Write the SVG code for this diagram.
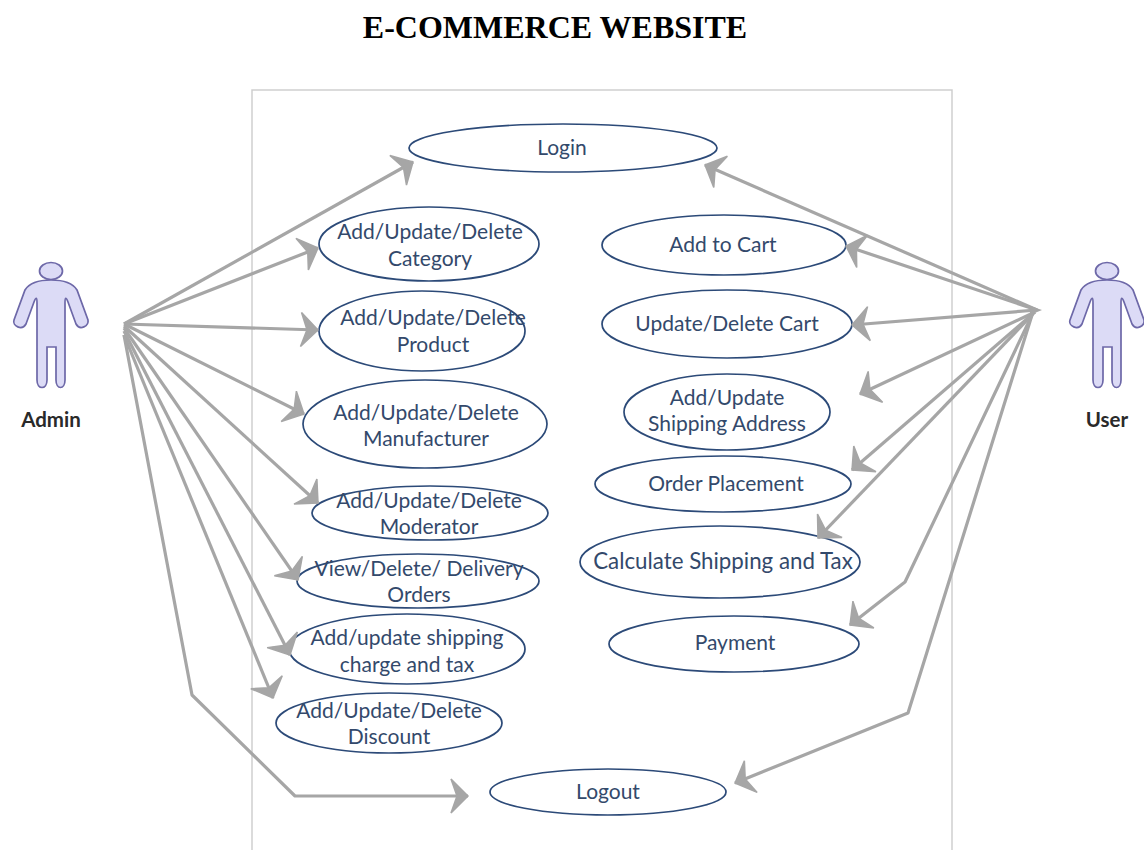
<svg xmlns="http://www.w3.org/2000/svg" width="1144" height="850" viewBox="0 0 1144 850">
<style>
.uc{fill:#fff;stroke:#2c4a78;stroke-width:1.7}
.t{font-family:Lato,"Open Sans",sans-serif;font-size:21px;fill:#33496b;text-anchor:middle}
.a{font-family:Lato,"Open Sans",sans-serif;font-size:20.5px;font-weight:700;fill:#2a2a2a;text-anchor:middle}
.c{fill:none;stroke:#a6a6a6;stroke-width:3.2;marker-end:url(#h);stroke-linejoin:round}
.fig{fill:#dcdbf6;stroke:#6d68a8;stroke-width:1.7}
</style>
<defs>
<marker id="h" markerUnits="userSpaceOnUse" markerWidth="44" markerHeight="44" viewBox="-22 -22 44 44" refX="0" refY="0" orient="auto">
<path d="M0 0L-17 -17L-11 0L-17 17Z" fill="#a6a6a6" stroke="#a6a6a6" stroke-width="1.5" stroke-linejoin="miter"/>
</marker>
<g id="figure"><ellipse cx="51" cy="271" rx="11.5" ry="8.5" class="fig"/>
<path class="fig" d="M51 280C60 280 72 282 77 290L88 320C89 326 80 331 76 324L68 302C66 297 65 297 65 303L65 380C65 390 56 390 56 380L56 347L47 347L47 380C47 390 37 390 37 380L37 303C37 297 36 297 34 302L26 324C22 331 12 326 14 320L25 290C30 282 42 280 51 280Z"/></g>
</defs>
<rect width="1144" height="850" fill="#fff"/>
<text x="555" y="38" font-family="Liberation Serif,serif" font-size="32" font-weight="bold" text-anchor="middle" fill="#000">E-COMMERCE WEBSITE</text>
<path d="M252 850V90H952V850" fill="none" stroke="#cfcfcf" stroke-width="1.5"/>
<g id="admin"><use href="#figure"/><text class="a" x="51" y="427">Admin</text></g>
<g id="user"><use href="#figure" x="1056"/><text class="a" x="1107" y="427">User</text></g>
<g id="login"><ellipse class="uc" cx="563" cy="148" rx="154" ry="24"/><text class="t" x="562" y="155">Login</text></g>
<g id="category"><ellipse class="uc" cx="429" cy="244" rx="110" ry="37"/><text class="t" x="430" y="239">Add/Update/Delete</text><text class="t" x="430" y="266">Category</text></g>
<g id="product"><ellipse class="uc" cx="422" cy="331" rx="103" ry="40"/><text class="t" x="433" y="325">Add/Update/Delete</text><text class="t" x="433" y="352">Product</text></g>
<g id="manufacturer"><ellipse class="uc" cx="425" cy="424" rx="122" ry="44"/><text class="t" x="426" y="420">Add/Update/Delete</text><text class="t" x="426" y="446">Manufacturer</text></g>
<g id="moderator"><ellipse class="uc" cx="430" cy="513" rx="118" ry="27"/><text class="t" x="429" y="508">Add/Update/Delete</text><text class="t" x="429" y="534">Moderator</text></g>
<g id="orders"><ellipse class="uc" cx="418" cy="581" rx="121" ry="27"/><text class="t" x="419" y="576">View/Delete/ Delivery</text><text class="t" x="419" y="602">Orders</text></g>
<g id="shippingcharge"><ellipse class="uc" cx="407" cy="649" rx="118" ry="35"/><text class="t" x="407" y="645">Add/update shipping</text><text class="t" x="407" y="672">charge and tax</text></g>
<g id="discount"><ellipse class="uc" cx="389" cy="723" rx="113" ry="30"/><text class="t" x="389" y="718">Add/Update/Delete</text><text class="t" x="389" y="744">Discount</text></g>
<g id="logout"><ellipse class="uc" cx="608" cy="792" rx="118" ry="23"/><text class="t" x="608" y="799">Logout</text></g>
<g id="cart"><ellipse class="uc" cx="724" cy="245" rx="122" ry="30"/><text class="t" x="723" y="252">Add to Cart</text></g>
<g id="updatecart"><ellipse class="uc" cx="727" cy="324" rx="125" ry="34"/><text class="t" x="727" y="331">Update/Delete Cart</text></g>
<g id="address"><ellipse class="uc" cx="727" cy="412" rx="103" ry="38"/><text class="t" x="727" y="405">Add/Update</text><text class="t" x="727" y="431">Shipping Address</text></g>
<g id="order"><ellipse class="uc" cx="723" cy="484" rx="128" ry="28"/><text class="t" x="726" y="491">Order Placement</text></g>
<g id="calculate"><ellipse class="uc" cx="720" cy="562" rx="140" ry="36"/><text class="t" x="723" y="569" style="font-size:22.3px">Calculate Shipping and Tax</text></g>
<g id="payment"><ellipse class="uc" cx="734" cy="644" rx="125" ry="28"/><text class="t" x="735" y="650">Payment</text></g>
<g id="connectors">
<path class="c" d="M124 324L413 162"/>
<path class="c" d="M124 324L318 248"/>
<path class="c" d="M124 324L318 330"/>
<path class="c" d="M124 324L304 414"/>
<path class="c" d="M124 326L318 503"/>
<path class="c" d="M124 328L298 580"/>
<path class="c" d="M124 331L290 655"/>
<path class="c" d="M124 335L273 698"/>
<path class="c" d="M124 335L192 695L295 796H468"/>
<path class="c" d="M1037 310L705 165"/>
<path class="c" d="M1037 310L846 246"/>
<path class="c" d="M1037 310L852 325"/>
<path class="c" d="M1035 312L860 394"/>
<path class="c" d="M1035 312L852 470"/>
<path class="c" d="M1033 314L818 538"/>
<path class="c" d="M1032 315L905 582L850 625"/>
<path class="c" d="M1032 315L908 713L735 783"/>
<path d="M1030 306L1042 310L1030 315Z" fill="#a6a6a6"/>
</g>
</svg>
